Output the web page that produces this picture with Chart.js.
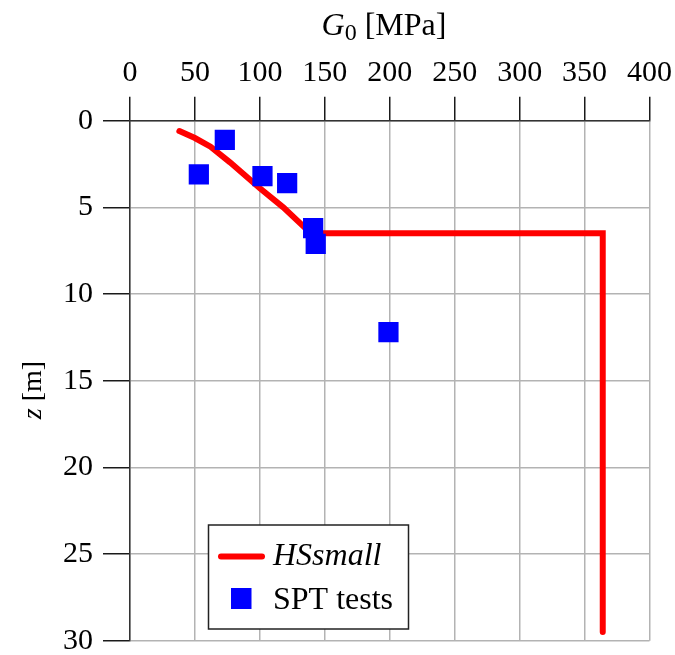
<!DOCTYPE html>
<html>
<head>
<meta charset="utf-8">
<script src="https://cdn.jsdelivr.net/npm/chart.js@4.4.0/dist/chart.umd.min.js"></script>
<style>
  html, body { margin: 0; padding: 0; background: #fff; }
  #wrap { width: 675px; height: 655px; }
</style>
</head>
<body>
<div id="wrap"><canvas id="chart"></canvas></div>
<script>
// HSsmall profile: G0 [MPa] against depth z [m]
const hsG0 = [38, 50, 62, 77, 100, 118, 135, 142, 364, 364];
const hsZ = [0.6, 1.0, 1.5, 2.4, 3.9, 5.0, 6.2, 6.5, 6.5, 29.5];

// SPT tests
const sptG0 = [73, 53, 102, 121, 141, 143, 199];
const sptZ = [1.1, 3.1, 3.2, 3.6, 6.2, 7.1, 12.2];

// tick labels
const g0Ticks = [0, 50, 100, 150, 200, 250, 300, 350, 400];
const zTicks = [0, 5, 10, 15, 20, 25, 30];

const serif = 'Liberation Serif';

// titles and legend are drawn by hand (italic / subscript parts)
const decorPlugin = {
  id: 'decor',
  afterDraw(chart) {
    const ctx = chart.ctx;
    ctx.save();
    ctx.fillStyle = '#000';
    ctx.textBaseline = 'alphabetic';

    // top title: G0 [MPa]
    const big = '32px "' + serif + '"';
    const bigIt = 'italic 32px "' + serif + '"';
    const sub = '24px "' + serif + '"';
    ctx.font = bigIt; const wG = ctx.measureText('G').width;
    ctx.font = sub; const w0 = ctx.measureText('0').width;
    ctx.font = big; const wRest = ctx.measureText(' [MPa]').width;
    let x = 384 - (wG + w0 + wRest) / 2;
    const by = 35;
    ctx.font = bigIt; ctx.fillText('G', x, by); x += wG;
    ctx.font = sub; ctx.fillText('0', x, by + 5); x += w0;
    ctx.font = big; ctx.fillText(' [MPa]', x, by);

    // left title: z [m], rotated
    const mid = '28px "' + serif + '"';
    const midIt = 'italic 28px "' + serif + '"';
    ctx.save();
    ctx.translate(41, 390);
    ctx.rotate(-Math.PI / 2);
    ctx.font = midIt; const wz = ctx.measureText('z').width;
    ctx.font = mid; const wm = ctx.measureText(' [m]').width;
    let tx = -(wz + wm) / 2;
    ctx.font = midIt; ctx.fillText('z', tx, 0); tx += wz;
    ctx.font = mid; ctx.fillText(' [m]', tx, 0);
    ctx.restore();

    // legend box
    ctx.fillStyle = '#fff';
    ctx.fillRect(208.5, 525, 200, 104);
    ctx.strokeStyle = '#222';
    ctx.lineWidth = 1.5;
    ctx.strokeRect(208.5, 525, 200, 104);

    ctx.strokeStyle = '#ff0000';
    ctx.lineWidth = 6;
    ctx.lineCap = 'round';
    ctx.beginPath();
    ctx.moveTo(221, 556.5);
    ctx.lineTo(262, 556.5);
    ctx.stroke();

    ctx.fillStyle = '#0000ff';
    ctx.fillRect(231, 588, 20.5, 21);

    ctx.fillStyle = '#000';
    ctx.font = bigIt;
    ctx.fillText('HSsmall', 273, 565);
    ctx.font = big;
    ctx.fillText('SPT tests', 273, 609);
    ctx.restore();
  }
};

const tickFont = { family: serif, size: 30 };

new Chart(document.getElementById('chart'), {
  type: 'scatter',
  data: {
    datasets: [
      {
        label: 'HSsmall',
        data: hsG0.map((g, i) => ({ x: g, y: hsZ[i] })),
        showLine: true,
        borderColor: '#ff0000',
        backgroundColor: '#ff0000',
        borderWidth: 6,
        borderCapStyle: 'round',
        borderJoinStyle: 'miter',
        pointRadius: 0,
        tension: 0,
        order: 2
      },
      {
        label: 'SPT tests',
        data: sptG0.map((g, i) => ({ x: g, y: sptZ[i] })),
        pointStyle: 'rect',
        pointRadius: 14.3,
        borderWidth: 0,
        backgroundColor: '#0000ff',
        borderColor: '#0000ff',
        order: 1
      }
    ]
  },
  options: {
    responsive: true,
    maintainAspectRatio: false,
    animation: false,
    layout: { padding: { left: 0, top: 0, right: 25.5, bottom: 11.7 } },
    plugins: { legend: { display: false }, tooltip: { enabled: false } },
    scales: {
      x: {
        type: 'linear',
        position: 'top',
        min: 0,
        max: 400,
        afterBuildTicks: s => { s.ticks = g0Ticks.map(v => ({ value: v })); },
        afterFit: s => { s.height = 120.7; s.paddingLeft = 0; s.paddingRight = 0; },
        grid: { color: '#b3b3b3', lineWidth: 1.5, tickColor: '#1a1a1a', tickLength: 24, tickWidth: 1.5 },
        border: { color: '#333', width: 1.5 },
        ticks: { font: tickFont, color: '#000', padding: 6, maxRotation: 0, autoSkip: false }
      },
      y: {
        type: 'linear',
        reverse: true,
        min: 0,
        max: 30,
        afterBuildTicks: s => { s.ticks = zTicks.map(v => ({ value: v })); },
        afterFit: s => { s.width = 130; s.paddingTop = 0; s.paddingBottom = 0; },
        grid: { color: '#b3b3b3', lineWidth: 1.5, tickColor: '#1a1a1a', tickLength: 27, tickWidth: 1.5 },
        border: { color: '#333', width: 1.5 },
        ticks: { font: tickFont, color: '#000', padding: 10, autoSkip: false }
      }
    }
  },
  plugins: [decorPlugin]
});
</script>
</body>
</html>
